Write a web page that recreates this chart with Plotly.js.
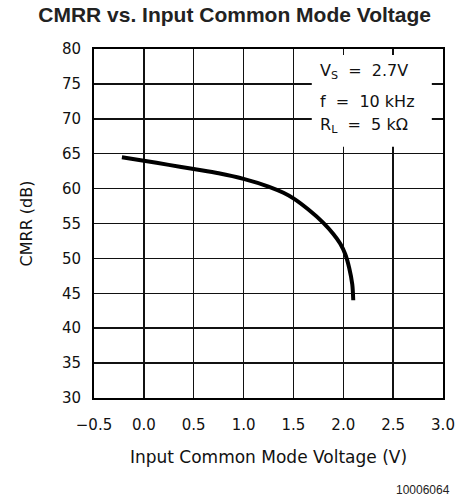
<!DOCTYPE html>
<html>
<head>
<meta charset="utf-8">
<script src="https://cdn.plot.ly/plotly-3.0.1.min.js"></script>
<style>html,body{margin:0;padding:0;background:#fff;}#chart{width:461px;height:499px;}</style>
</head>
<body>
<div id="chart"></div>
<script>
// Data
const voltage = [-0.22, 0.0, 0.25, 0.5, 0.75, 1.0, 1.25, 1.4, 1.5, 1.65, 1.8, 1.9, 1.97, 2.02, 2.06, 2.09, 2.1];
const cmrr    = [64.5, 64.0, 63.4, 62.8, 62.2, 61.4, 60.3, 59.4, 58.6, 57.0, 55.1, 53.5, 52.1, 50.6, 48.6, 46.3, 44.0];
const xTicks = [-0.5, 0.0, 0.5, 1.0, 1.5, 2.0, 2.5, 3.0];
const xTickLabels = ["\u22120.5", "0.0", "0.5", "1.0", "1.5", "2.0", "2.5", "3.0"];
const yTicks = [30, 35, 40, 45, 50, 55, 60, 65, 70, 75, 80];
const conditions = ["V<sub>S</sub>  =  2.7V", "f  =  10 kHz", "R<sub>L</sub>  =  5 k\u03A9"];

const axisFont = {family: "DejaVu Sans", size: 15, color: "#111"};

const trace = {
  x: voltage, y: cmrr, type: "scatter", mode: "lines",
  line: {color: "#000", width: 4, shape: "spline", smoothing: 0.8},
  hoverinfo: "skip"
};

const condY = [0.935, 0.849, 0.78];
const annotations = conditions.map((t, i) => ({
  text: t, xref: "paper", yref: "paper", x: 0.642, y: condY[i],
  xanchor: "left", yanchor: "middle", showarrow: false,
  font: {family: "DejaVu Sans", size: 16, color: "#111"}
}));
annotations.push({
  text: "10006064", xref: "paper", yref: "paper", x: 1.026, y: -0.264,
  xanchor: "right", yanchor: "middle", showarrow: false,
  font: {family: "Liberation Sans", size: 12, color: "#222"}
});

const layout = {
  width: 461, height: 499,
  margin: {l: 94, r: 18, t: 49, b: 101},
  paper_bgcolor: "#fff", plot_bgcolor: "#fff",
  showlegend: false,
  title: {
    text: "<b>CMRR vs. Input Common Mode Voltage</b>",
    x: 0.509, xanchor: "center", y: 0.97, yanchor: "middle",
    font: {family: "Liberation Sans", size: 21, color: "#222"}
  },
  xaxis: {
    range: [-0.5, 3.0], tickvals: xTicks, ticktext: xTickLabels,
    showgrid: true, gridcolor: "#111", gridwidth: 1.5,
    zeroline: false, showline: true, linecolor: "#000", linewidth: 2, mirror: true,
    ticks: "", ticklabelstandoff: 12, tickfont: axisFont,
    title: {text: "Input Common Mode Voltage (V)", standoff: 18,
            font: {family: "DejaVu Sans", size: 17, color: "#111"}}
  },
  yaxis: {
    range: [30, 80], tickvals: yTicks,
    showgrid: true, gridcolor: "#111", gridwidth: 1.5,
    zeroline: false, showline: true, linecolor: "#000", linewidth: 2, mirror: true,
    ticks: "", ticklabelstandoff: 8, tickfont: axisFont,
    title: {text: "CMRR (dB)", standoff: 25,
            font: {family: "DejaVu Sans", size: 16, color: "#111"}}
  },
  // white box behind the test conditions (hides the gridlines there; does not overlap the curve)
  shapes: [{
    type: "rect", xref: "paper", yref: "paper",
    x0: 0.624, x1: 0.968, y0: 0.72, y1: 0.983,
    fillcolor: "#fff", line: {width: 0}, layer: "above"
  }],
  annotations: annotations
};

Plotly.newPlot("chart", [trace], layout, {displayModeBar: false, staticPlot: true});
</script>
</body>
</html>
